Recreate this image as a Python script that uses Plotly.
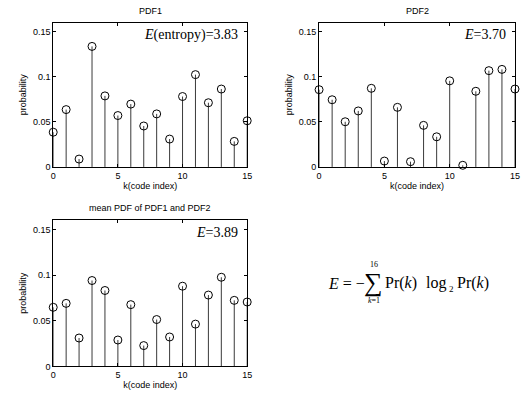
import plotly.graph_objects as go

k = list(range(16))
pdf1 = [0.0385, 0.0636, 0.0087, 0.1337, 0.0788, 0.0570, 0.0697, 0.0454,
        0.0588, 0.0309, 0.0781, 0.1024, 0.0712, 0.0864, 0.0283, 0.0512]
pdf2 = [0.0857, 0.0745, 0.0501, 0.0621, 0.0872, 0.0065, 0.0661, 0.0058,
        0.0461, 0.0334, 0.0955, 0.0018, 0.0839, 0.1068, 0.1082, 0.0864]
pdf_mean = [0.0647, 0.0690, 0.0311, 0.0940, 0.0831, 0.0289, 0.0676, 0.0228,
            0.0513, 0.0322, 0.0878, 0.0463, 0.0781, 0.0976, 0.0723, 0.0705]
titles = ["PDF1", "PDF2", "mean PDF of PDF1 and PDF2"]
entropy_labels = ["<i>E</i>(entropy)=3.83", "<i>E</i>=3.70", "<i>E</i>=3.89"]
x_ticks = [0, 5, 10, 15]
y_ticks = [0, 0.05, 0.1, 0.15]
y_tick_text = ["0", "0.05", "0.1", "0.15"]

W, H = 521, 404
def px(x): return x / W
def py(y): return 1 - y / H

# panel boxes in pixels (left, right, top, bottom)
boxes = [(51, 248, 23, 169), (321, 520, 23, 169), (51, 248, 223, 371)]
series = [pdf1, pdf2, pdf_mean]

fig = go.Figure()
sans = "Liberation Sans, Arial, sans-serif"
serif = "Liberation Serif, Times New Roman, serif"
tick_font = dict(family=sans, size=9, color="black")

def note(x, y, text, font, xanchor="center", yanchor="middle"):
    fig.add_annotation(x=px(x), y=py(y), xref="paper", yref="paper", text=text,
                       showarrow=False, xanchor=xanchor, yanchor=yanchor,
                       font=font)

for i, (vals, box) in enumerate(zip(series, boxes)):
    sx = "" if i == 0 else str(i + 1)
    xa, ya = "x" + sx, "y" + sx
    stem_x, stem_y = [], []
    for kk, v in zip(k, vals):
        stem_x += [kk, kk, None]
        stem_y += [0, v, None]
    fig.add_trace(go.Scatter(x=stem_x, y=stem_y, mode="lines",
                             line=dict(color="#3a3a3a", width=1),
                             xaxis=xa, yaxis=ya, showlegend=False,
                             hoverinfo="skip", cliponaxis=False))
    fig.add_trace(go.Scatter(x=k, y=vals, mode="markers",
                             marker=dict(symbol="circle-open", size=8,
                                         color="black", line=dict(width=1)),
                             xaxis=xa, yaxis=ya, showlegend=False,
                             cliponaxis=False))
    l, r, t, b = box
    axcommon = dict(showline=True, linecolor="black", linewidth=1, mirror="ticks",
                    ticks="inside", ticklen=3, tickcolor="black", showgrid=False,
                    zeroline=False, tickfont=tick_font)
    fig.layout["xaxis" + sx] = dict(domain=[px(l), px(r)], anchor=ya, range=[0, 15],
                                    tickvals=x_ticks,
                                    title=dict(text="k(code index)", standoff=2,
                                               font=dict(family=sans, size=9, color="black")),
                                    **axcommon)
    fig.layout["yaxis" + sx] = dict(domain=[py(b), py(t)], anchor=xa, range=[0, 0.16],
                                    tickvals=y_ticks, ticktext=y_tick_text,
                                    title=dict(text="probability", standoff=4,
                                               font=dict(family=sans, size=9, color="black")),
                                    **axcommon)
    note((l + r) / 2, t - 12, titles[i], dict(family=sans, size=9, color="black"))
    note(r - 7, t + 12, entropy_labels[i], dict(family=serif, size=14, color="black"),
         xanchor="right")

# formula
fsz = dict(family=serif, size=16, color="black")
note(370, 287, "<i>E</i> = \u2212", fsz, xanchor="right")
note(376, 286, "\u2211", dict(family=serif, size=26, color="black"))
note(377, 268, "16", dict(family=serif, size=8, color="black"))
note(377, 304, "<i>k</i>=1", dict(family=serif, size=8, color="black"))
note(386, 287, "Pr(<i>k</i>)", fsz, xanchor="left")
note(428, 287, "log", fsz, xanchor="left")
note(451, 293, "2", dict(family=serif, size=9, color="black"), xanchor="left")
note(459, 287, "Pr(<i>k</i>)", fsz, xanchor="left")

fig.update_layout(width=W, height=H, margin=dict(l=0, r=0, t=0, b=0),
                  paper_bgcolor="white", plot_bgcolor="white")
fig.write_html("out.html", config={"displayModeBar": False},
               post_script="document.body.style.margin='0px';document.body.style.overflow='hidden';")
